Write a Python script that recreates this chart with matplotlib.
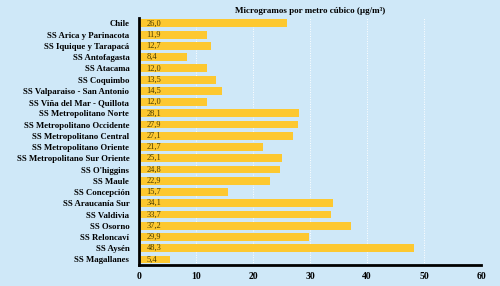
import matplotlib
matplotlib.use("Agg")
import matplotlib.pyplot as plt

# categorias y valores (ug/m3)
regiones = ["Chile", "SS Arica y Parinacota", "SS Iquique y Tarapacá", "SS Antofagasta",
            "SS Atacama", "SS Coquimbo", "SS Valparaiso - San Antonio", "SS Viña del Mar - Quillota",
            "SS Metropolitano Norte", "SS Metropolitano Occidente", "SS Metropolitano Central",
            "SS Metropolitano Oriente", "SS Metropolitano Sur Oriente", "SS O'higgins", "SS Maule",
            "SS Concepción", "SS Araucanía Sur", "SS Valdivia", "SS Osorno", "SS Reloncaví",
            "SS Aysén", "SS Magallanes"]
valores = [26.0, 11.9, 12.7, 8.4, 12.0, 13.5, 14.5, 12.0, 28.1, 27.9, 27.1, 21.7, 25.1,
           24.8, 22.9, 15.7, 34.1, 33.7, 37.2, 29.9, 48.3, 5.4]
xticks = [0, 10, 20, 30, 40, 50, 60]

fondo = "#cfe8f8"
plt.rcParams['font.family'] = ['Liberation Serif', 'DejaVu Serif']

fig = plt.figure(figsize=(5, 2.86), dpi=100, facecolor=fondo)
ax = fig.add_axes([0.278, 0.073, 0.684, 0.865], facecolor=fondo)

y = list(range(len(regiones)))
ax.barh(y, valores, height=0.7, color="#fdc830", zorder=2)
for yi, v in zip(y, valores):
    ax.text(1.3, yi, f"{v:.1f}".replace(".", ","), va="center", ha="left",
            fontsize=6, color="#4a3c00", zorder=3)

ax.set_ylim(len(regiones) - 0.5, -0.5)
ax.set_xlim(0, 60)
ax.set_xticks(xticks)
ax.set_xticklabels([str(t) for t in xticks], fontsize=7, fontweight="bold")
ax.set_yticks(y)
ax.set_yticklabels(regiones, fontsize=6.3, fontweight="bold")
ax.tick_params(axis="y", length=0, pad=7)
ax.tick_params(axis="x", length=0, pad=5)
ax.grid(axis="x", color="white", linestyle=(0, (1, 1.5)), linewidth=0.7, zorder=1)

for s in ["top", "right"]:
    ax.spines[s].set_visible(False)
for s in ["left", "bottom"]:
    ax.spines[s].set_linewidth(2)
    ax.spines[s].set_color("black")

fig.text(0.62, 0.96, "Microgramos por metro cúbico (µg/m³)", ha="center", va="center",
         fontsize=6.5, fontweight="bold")

fig.savefig("out.png", dpi=100, facecolor=fondo)
